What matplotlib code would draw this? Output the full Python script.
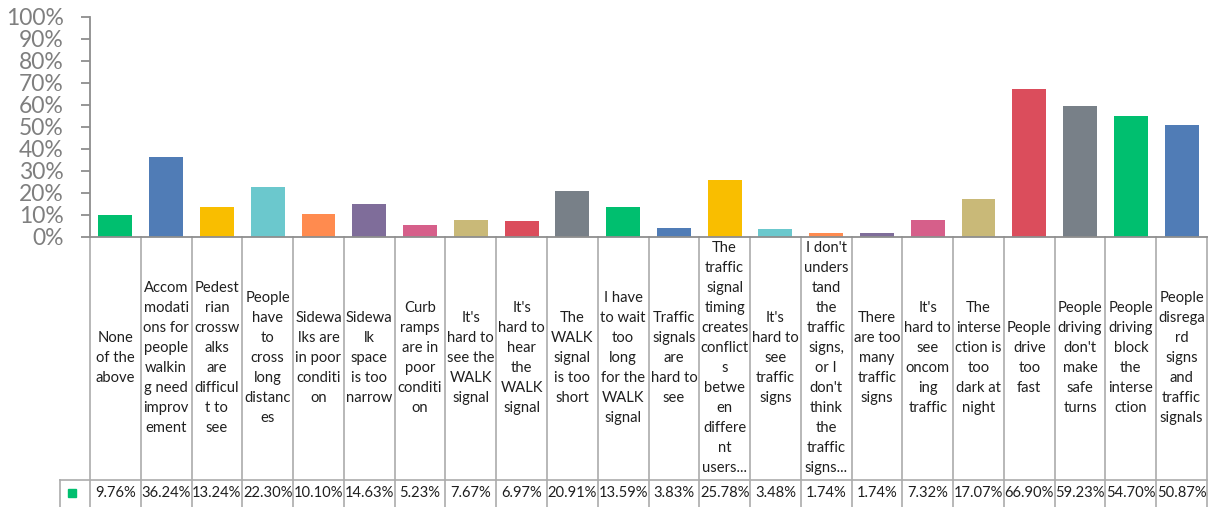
import matplotlib
matplotlib.use("Agg")
import matplotlib.pyplot as plt
from matplotlib.transforms import blended_transform_factory
from matplotlib.lines import Line2D
from matplotlib.patches import Rectangle

categories = [
    "None\nof the\nabove",
    "Accom\nmodati\nons for\npeople\nwalkin\ng need\nimprov\nement",
    "Pedest\nrian\ncrossw\nalks\nare\ndifficul\nt to\nsee",
    "People\nhave\nto\ncross\nlong\ndistanc\nes",
    "Sidewa\nlks are\nin poor\nconditi\non",
    "Sidewa\nlk\nspace\nis too\nnarrow",
    "Curb\nramps\nare in\npoor\nconditi\non",
    "It's\nhard to\nsee the\nWALK\nsignal",
    "It's\nhard to\nhear\nthe\nWALK\nsignal",
    "The\nWALK\nsignal\nis too\nshort",
    "I have\nto wait\ntoo\nlong\nfor the\nWALK\nsignal",
    "Traffic\nsignals\nare\nhard to\nsee",
    "The\ntraffic\nsignal\ntiming\ncreates\nconflict\ns\nbetwe\nen\ndiffere\nnt\nusers...",
    "It's\nhard to\nsee\ntraffic\nsigns",
    "I don't\nunders\ntand\nthe\ntraffic\nsigns,\nor I\ndon't\nthink\nthe\ntraffic\nsigns...",
    "There\nare too\nmany\ntraffic\nsigns",
    "It's\nhard to\nsee\noncom\ning\ntraffic",
    "The\ninterse\nction is\ntoo\ndark at\nnight",
    "People\ndrive\ntoo\nfast",
    "People\ndriving\ndon't\nmake\nsafe\nturns",
    "People\ndriving\nblock\nthe\ninterse\nction",
    "People\ndisrega\nrd\nsigns\nand\ntraffic\nsignals",
]
values = [9.76, 36.24, 13.24, 22.30, 10.10, 14.63, 5.23, 7.67, 6.97, 20.91, 13.59,
          3.83, 25.78, 3.48, 1.74, 1.74, 7.32, 17.07, 66.90, 59.23, 54.70, 50.87]
value_labels = ["9.76%", "36.24%", "13.24%", "22.30%", "10.10%", "14.63%", "5.23%",
                "7.67%", "6.97%", "20.91%", "13.59%", "3.83%", "25.78%", "3.48%",
                "1.74%", "1.74%", "7.32%", "17.07%", "66.90%", "59.23%", "54.70%", "50.87%"]
palette = ["#00BF6F", "#507CB6", "#F9BE00", "#6BC8CD", "#FF8B4F", "#7F6D9A",
           "#D65F8A", "#C9B978", "#DB4D5C", "#788088"]
yticks = [0, 10, 20, 30, 40, 50, 60, 70, 80, 90, 100]
ytick_labels = ["0%", "10%", "20%", "30%", "40%", "50%", "60%", "70%", "80%", "90%", "100%"]

W, H = 1211, 507
fig = plt.figure(figsize=(W / 100, H / 100), dpi=100)
ax_left, ax_right, ax_top, ax_bot = 90, 1207, 16.7, 236.5
ax = fig.add_axes([ax_left / W, 1 - ax_bot / H, (ax_right - ax_left) / W, (ax_bot - ax_top) / H])

n = len(values)
x = list(range(n))
colors = [palette[i % len(palette)] for i in range(n)]
ax.bar(x, values, width=0.667, color=colors, zorder=2)
ax.set_xlim(-0.5, n - 0.5)
ax.set_ylim(0, 100)
ax.set_yticks(yticks)
ax.set_yticklabels(ytick_labels)
ax.set_xticks([])

axis_col = "#8E8E8E"
grid_col = "#ABABAB"
txt_col = "#1F1F1F"
for s in ["top", "right"]:
    ax.spines[s].set_visible(False)
for s in ["left", "bottom"]:
    ax.spines[s].set_color(axis_col)
    ax.spines[s].set_linewidth(1.3)
ax.tick_params(axis="y", direction="out", length=6.5, width=1.3, color=axis_col,
               labelcolor="#7F7F7F", labelsize=16.5, pad=12.5)
for lab in ax.get_yticklabels():
    lab.set_family("Lato")

tr = blended_transform_factory(ax.transData, fig.transFigure)
def fy(p):
    return 1 - p / H

# vertical table lines
for i in range(n + 1):
    xb = i - 0.5
    ax.add_line(Line2D([xb, xb], [fy(ax_bot), fy(H + 2)], transform=tr, color=grid_col,
                       lw=1.2, clip_on=False, zorder=1))
row_y = 479.5
fig.add_artist(Line2D([60 / W, ax_right / W], [fy(row_y), fy(row_y)], transform=fig.transFigure,
                      color=grid_col, lw=1.2))
fig.add_artist(Line2D([60 / W, 60 / W], [fy(row_y), fy(H + 2)], transform=fig.transFigure,
                      color=grid_col, lw=1.2))

# category labels
cat_center = (ax_bot + row_y) / 2
for i, lab in enumerate(categories):
    ax.text(i, fy(cat_center), lab, transform=tr, ha="center", va="center",
            fontsize=10.6, family="Lato", color=txt_col, linespacing=1.55, clip_on=False)

# value labels
val_center = 493
for i, lab in enumerate(value_labels):
    ax.text(i, fy(val_center), lab, transform=tr, ha="center", va="center",
            fontsize=10.6, family="Lato", color=txt_col, clip_on=False)

# legend key
fig.add_artist(Rectangle((68 / W, fy(497)), 8 / W, 8 / H, transform=fig.transFigure,
                         color=palette[0]))

fig.savefig("out.png", dpi=100)
